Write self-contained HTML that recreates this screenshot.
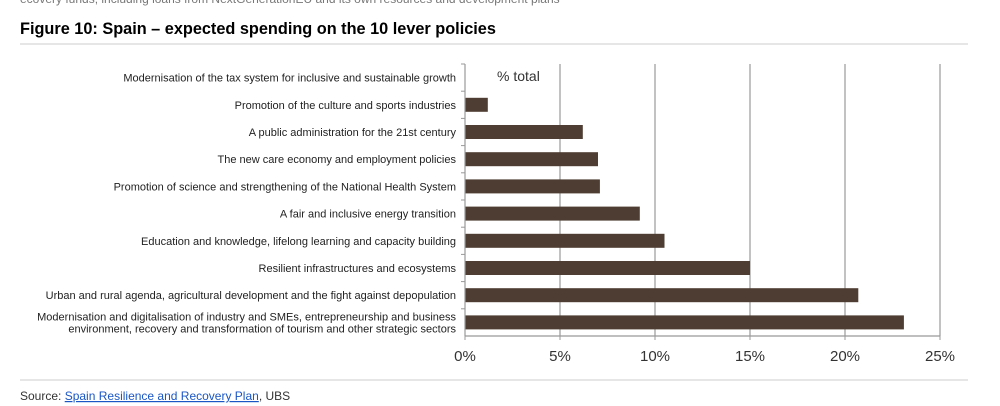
<!DOCTYPE html>
<html><head><meta charset="utf-8"><style>
body{margin:0;background:#fff;font-family:"Liberation Sans",sans-serif;}
svg{display:block}
</style></head><body>
<svg width="1000" height="406" viewBox="0 0 1000 406" xmlns="http://www.w3.org/2000/svg">
<text x="20" y="3" font-size="12" fill="#777">ecovery funds, including loans from NextGenerationEU and its own resources and development plans</text>
<text x="20" y="34" font-size="16.3" font-weight="bold" fill="#000">Figure 10: Spain – expected spending on the 10 lever policies</text>
<line x1="20" y1="44" x2="968" y2="44" stroke="#ddd" stroke-width="1.5"/>
<g id="grid"></g><g id="bars"></g><g id="labels"></g><g id="axis"></g>
<text x="497" y="81" font-size="14" fill="#333">% total</text>
<line x1="20" y1="380" x2="968" y2="380" stroke="#ddd" stroke-width="1.5"/>
<text x="20" y="400" font-size="12" fill="#333">Source: <tspan fill="#1a56c4" text-decoration="underline">Spain Resilience and Recovery Plan</tspan>, UBS</text>
</svg>
<script>
const categories=[
["Modernisation of the tax system for inclusive and sustainable growth"],
["Promotion of the culture and sports industries"],
["A public administration for the 21st century"],
["The new care economy and employment policies"],
["Promotion of science and strengthening of the National Health System"],
["A fair and inclusive energy transition"],
["Education and knowledge, lifelong learning and capacity building"],
["Resilient infrastructures and ecosystems"],
["Urban and rural agenda, agricultural development and the fight against depopulation"],
["Modernisation and digitalisation of industry and SMEs, entrepreneurship and business","environment, recovery and transformation of tourism and other strategic sectors"]
];
const values=[0,1.2,6.2,7.0,7.1,9.2,10.5,15.0,20.7,23.1];
const ticks=[0,5,10,15,20,25];
const tickLabels=["0%","5%","10%","15%","20%","25%"];
const NS="http://www.w3.org/2000/svg";
const x0=465,x1=940,yTop=64,yBottom=336,maxV=25;
const xs=v=>x0+(x1-x0)*v/maxV;
const band=(yBottom-yTop)/categories.length;
const yc=i=>yTop+band*(i+0.5);
function mk(tag,at,parent){const e=document.createElementNS(NS,tag);for(const k in at)e.setAttribute(k,at[k]);document.getElementById(parent).appendChild(e);return e;}
ticks.forEach((t,i)=>{
 if(t>0){const g=mk('line',{x1:xs(t),x2:xs(t),y1:yTop,y2:yBottom,stroke:'#999','stroke-width':1.2},'grid');
 
 }
 const tk=mk('line',{x1:xs(t),x2:xs(t),y1:yBottom,y2:yBottom+4,stroke:'#999'},'axis');
 
 
 const l=mk('text',{x:xs(t),y:yBottom+25,'font-size':15,fill:'#333','text-anchor':'middle'},'axis');l.textContent=tickLabels[i];
 
 
});
const ax=mk('line',{x1:x0,x2:x1,y1:yBottom,y2:yBottom,stroke:'#999','stroke-width':1.2},'axis');


const ay=mk('line',{x1:x0,x2:x0,y1:yTop,y2:yBottom,stroke:'#999','stroke-width':1.2},'axis');


categories.forEach((c,i)=>{
 const yt=mk('line',{x1:x0-4,x2:x0,y1:yTop+band*i,y2:yTop+band*i,stroke:'#999'},'axis');
 
 
 if(values[i]>0){const b=mk('rect',{x:x0,y:yc(i)-7,width:xs(values[i])-x0,height:14,fill:'#4e3d32'},'bars');
 
 }
 const t=mk('text',{x:456,y:yc(i)+(c.length>1?-2:4),'font-size':11,fill:'#222','text-anchor':'end'},'labels');
 
 
 c.forEach((s,j)=>{const ts=document.createElementNS(NS,'tspan');ts.setAttribute('x',456);if(j>0)ts.setAttribute('dy',12);ts.textContent=s;t.appendChild(ts);});
});
</script>
</body></html>
